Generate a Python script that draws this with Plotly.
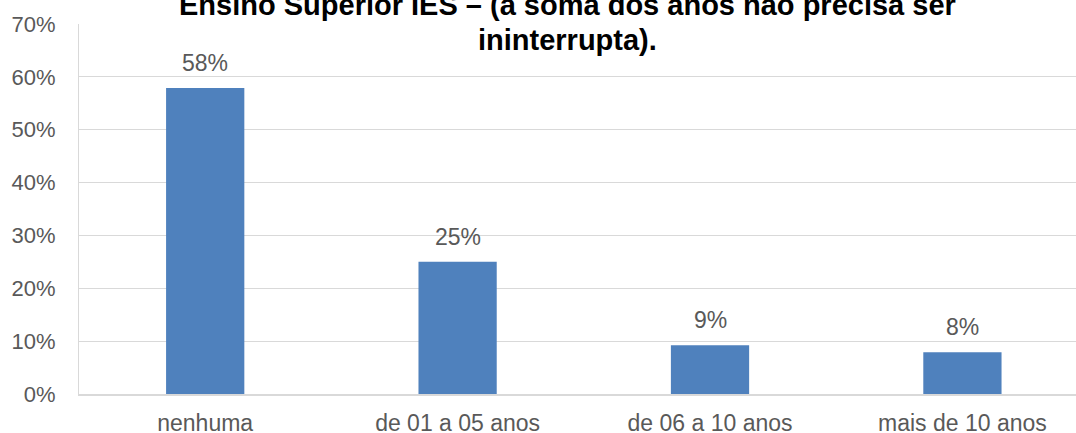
import plotly.graph_objects as go

categories = ["nenhuma", "de 01 a 05 anos", "de 06 a 10 anos", "mais de 10 anos"]
values = [0.579, 0.25, 0.092, 0.079]
labels = ["58%", "25%", "9%", "8%"]
tick_vals = [0, 0.1, 0.2, 0.3, 0.4, 0.5, 0.6, 0.7]
tick_text = ["0%", "10%", "20%", "30%", "40%", "50%", "60%", "70%"]
title_lines = ["Ensino Superior IES – (a soma dos anos não precisa ser", "ininterrupta)."]

FONT = "Liberation Sans, Arial, sans-serif"
GRAY = "#595959"

fig = go.Figure()
fig.add_trace(go.Bar(
    x=categories, y=values, width=0.31,
    marker=dict(color="#4f81bd", line=dict(width=0)),
    hoverinfo="skip",
))

for c, v, t in zip(categories, values, labels):
    fig.add_annotation(x=c, y=v, text=t, showarrow=False, yanchor="bottom",
                       yshift=10, font=dict(family=FONT, size=23, color=GRAY))

# title lines (pixel centres ~5 and ~40 from top; plot spans 24..394)
for line, ypix in zip(title_lines, [5, 40]):
    fig.add_annotation(xref="paper", yref="paper", x=(567 - 79) / 997,
                       y=(394 - ypix) / 370,
                       text="<b>" + line + "</b>", showarrow=False,
                       xanchor="center", yanchor="middle",
                       font=dict(family=FONT, size=29, color="#000000"))

fig.update_layout(
    width=1076, height=433,
    margin=dict(l=79, r=0, t=24, b=39, autoexpand=False),
    paper_bgcolor="white", plot_bgcolor="white",
    showlegend=False,
    xaxis=dict(range=[-0.5, 3.45], showgrid=False, showline=True,
               linecolor="#d9d9d9", linewidth=2, ticks="", automargin=False,
               ticklabelstandoff=7,
               tickfont=dict(family=FONT, size=23, color=GRAY)),
    yaxis=dict(range=[0, 0.7], tickvals=tick_vals, ticktext=tick_text,
               showgrid=True, gridcolor="#d9d9d9", gridwidth=1,
               showline=True, linecolor="#d9d9d9", linewidth=1, automargin=False,
               zeroline=False, ticks="", ticklabelstandoff=18,
               tickfont=dict(family=FONT, size=22, color=GRAY)),
)

fig.write_html("out.html", config={"displayModeBar": False},
               post_script="document.body.style.margin='0';document.body.style.overflow='hidden';")
